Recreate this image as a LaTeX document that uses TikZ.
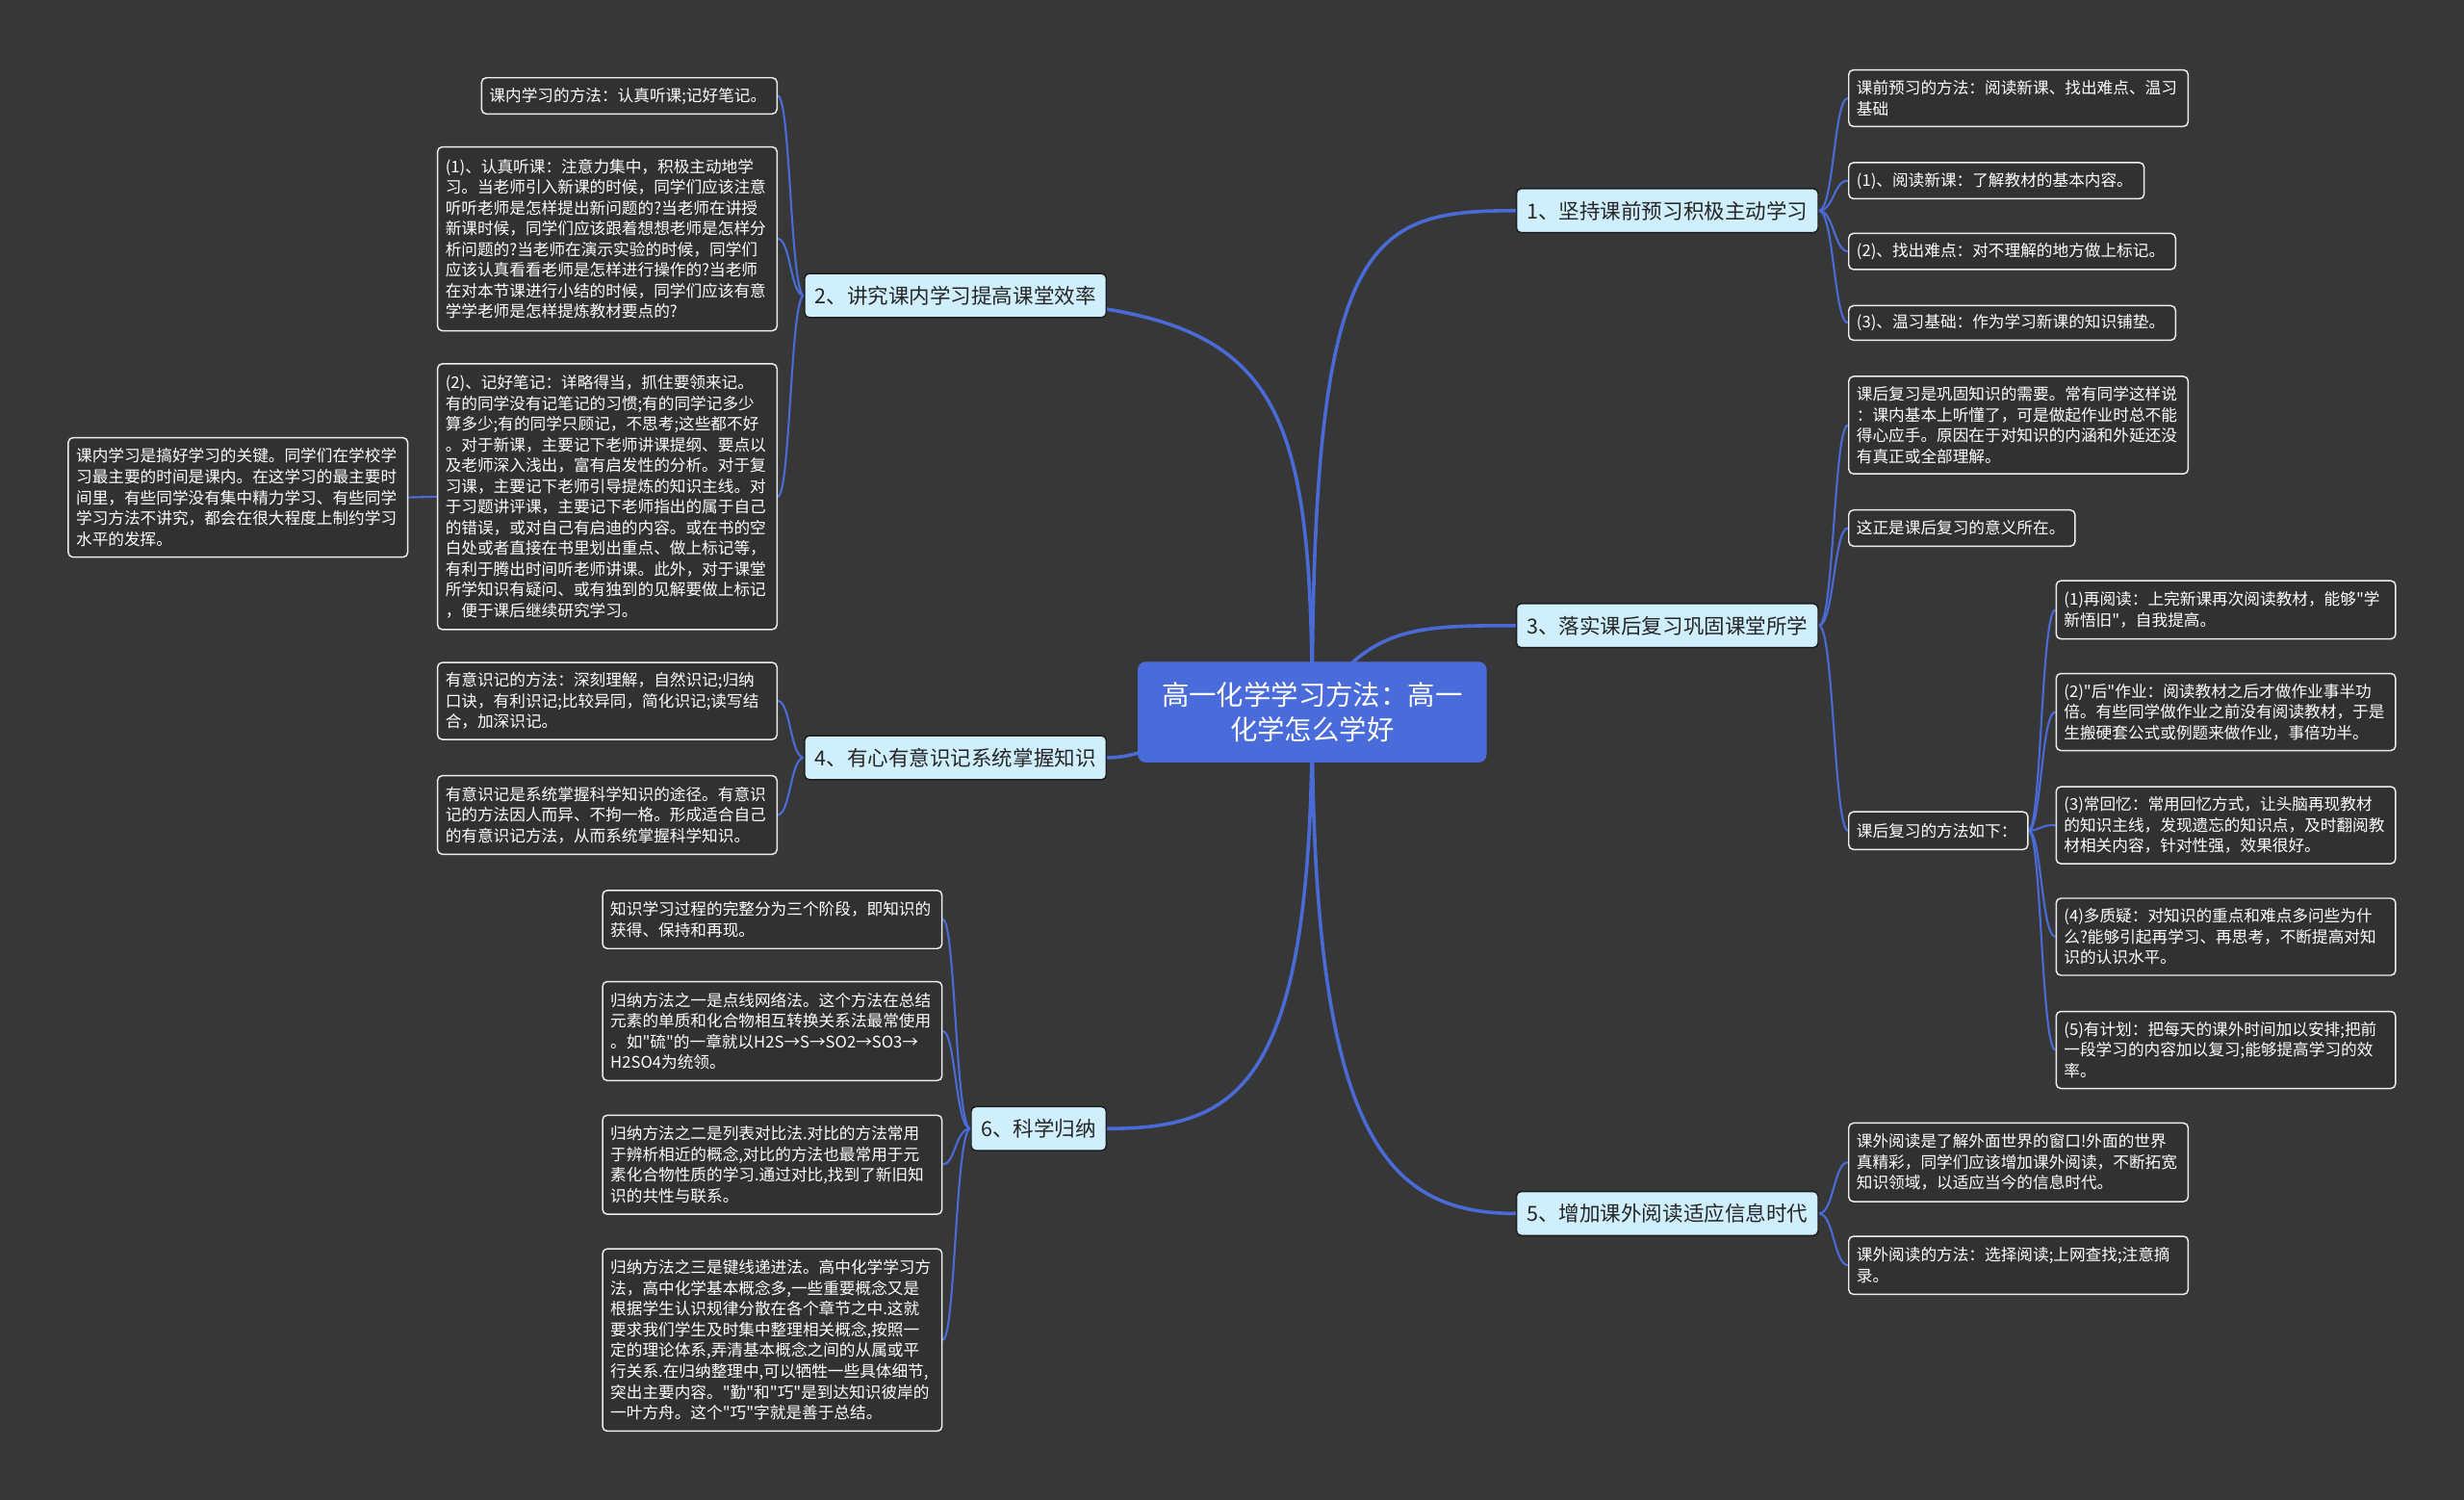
\documentclass[tikz,border=0pt]{standalone}
\usepackage{fontspec}
\setmainfont{Noto Sans CJK SC}[Ligatures=TeXOff]
\pgfdeclarelayer{bg}
\pgfsetlayers{bg,main}
\definecolor{bgc}{HTML}{373737}
\definecolor{brc}{HTML}{4A6BD6}
\definecolor{leafbg}{HTML}{313131}
\definecolor{leafline}{HTML}{EDEDED}
\definecolor{topicbg}{HTML}{CFEFFD}
\definecolor{topicline}{HTML}{1E1E1E}
\definecolor{topictext}{HTML}{262626}
\definecolor{rootbg}{HTML}{4A6CDA}
\tikzset{
 branch/.style={draw=brc, line width=2.2pt},
 sub/.style={draw=brc, line width=1.3pt},
 leaf/.style={draw=leafline, fill=leafbg, rounded corners=3pt, line width=0.9pt, text=white,
   font=\fontsize{10.2}{13.2}\selectfont, align=left, inner xsep=5pt, inner ysep=3pt, anchor=north west},
 topic/.style={draw=topicline, fill=topicbg, rounded corners=3pt, line width=0.9pt, text=topictext,
   font=\fontsize{13.2}{16}\selectfont, minimum width=192pt, minimum height=28pt, inner sep=2pt, anchor=center},
 rootnode/.style={fill=rootbg, rounded corners=5pt, text=white, font=\fontsize{17.4}{21.5}\selectfont,
   align=center, minimum width=222pt, minimum height=64pt, inner sep=2pt, anchor=center}
}
\begin{document}
\begin{tikzpicture}[x=1pt,y=-1pt]
\useasboundingbox (0,0) rectangle (1568,954);
% root and topics
\node[rootnode] (root) at (835,453) {高一化学学习方法：高一\\化学怎么学好};
\node[topic] (t1) at (1061,134) {1、坚持课前预习积极主动学习};
\node[topic] (t2) at (608,188) {2、讲究课内学习提高课堂效率};
\node[topic] (t3) at (1061,398) {3、落实课后复习巩固课堂所学};
\node[topic] (t4) at (608,482) {4、有心有意识记系统掌握知识};
\node[topic] (t5) at (1061,772) {5、增加课外阅读适应信息时代};
\node[topic, minimum width=86pt] (t6) at (661,718) {6、科学归纳};
% right side leaves
\node[leaf, text width=206pt, minimum height=36pt] (a1) at (1176,44) {课前预习的方法：阅读新课、找出难点、温习\\基础};
\node[leaf, text width=178pt, minimum height=23pt] (a2) at (1176,103) {(1)、阅读新课：了解教材的基本内容。};
\node[leaf, text width=198pt, minimum height=23pt] (a3) at (1176,148) {(2)、找出难点：对不理解的地方做上标记。};
\node[leaf, text width=198pt, minimum height=22pt] (a4) at (1176,194) {(3)、温习基础：作为学习新课的知识铺垫。};
\node[leaf, text width=206pt, minimum height=62pt] (c1) at (1176,239) {课后复习是巩固知识的需要。常有同学这样说\\：课内基本上听懂了，可是做起作业时总不能\\得心应手。原因在于对知识的内涵和外延还没\\有真正或全部理解。};
\node[leaf, text width=134pt, minimum height=23pt] (c2) at (1176,324) {这正是课后复习的意义所在。};
\node[leaf, text width=104pt, minimum height=24pt] (c3) at (1176,516) {课后复习的方法如下：};
\node[leaf, text width=206pt, minimum height=37pt] (d1) at (1308,369) {(1)再阅读：上完新课再次阅读教材，能够"学\\新悟旧"，自我提高。};
\node[leaf, text width=206pt, minimum height=49pt] (d2) at (1308,428) {(2)"后"作业：阅读教材之后才做作业事半功\\倍。有些同学做作业之前没有阅读教材，于是\\生搬硬套公式或例题来做作业，事倍功半。};
\node[leaf, text width=206pt, minimum height=49pt] (d3) at (1308,500) {(3)常回忆：常用回忆方式，让头脑再现教材\\的知识主线，发现遗忘的知识点，及时翻阅教\\材相关内容，针对性强，效果很好。};
\node[leaf, text width=206pt, minimum height=49pt] (d4) at (1308,571) {(4)多质疑：对知识的重点和难点多问些为什\\么?能够引起再学习、再思考，不断提高对知\\识的认识水平。};
\node[leaf, text width=206pt, minimum height=49pt] (d5) at (1308,643) {(5)有计划：把每天的课外时间加以安排;把前\\一段学习的内容加以复习;能够提高学习的效\\率。};
\node[leaf, text width=206pt, minimum height=50pt] (e1) at (1176,714) {课外阅读是了解外面世界的窗口!外面的世界\\真精彩，同学们应该增加课外阅读，不断拓宽\\知识领域，以适应当今的信息时代。};
\node[leaf, text width=206pt, minimum height=37pt] (e2) at (1176,786) {课外阅读的方法：选择阅读;上网查找;注意摘\\录。};
% left side leaves
\node[leaf, text width=178pt, minimum height=23pt] (b1) at (306,49) {课内学习的方法：认真听课;记好笔记。};
\node[leaf, text width=206pt, minimum height=117pt] (b2) at (278,93) {(1)、认真听课：注意力集中，积极主动地学\\习。当老师引入新课的时候，同学们应该注意\\听听老师是怎样提出新问题的?当老师在讲授\\新课时候，同学们应该跟着想想老师是怎样分\\析问题的?当老师在演示实验的时候，同学们\\应该认真看看老师是怎样进行操作的?当老师\\在对本节课进行小结的时候，同学们应该有意\\学学老师是怎样提炼教材要点的?};
\node[leaf, text width=206pt, minimum height=169pt] (b3) at (278,231) {(2)、记好笔记：详略得当，抓住要领来记。\\有的同学没有记笔记的习惯;有的同学记多少\\算多少;有的同学只顾记，不思考;这些都不好\\。对于新课，主要记下老师讲课提纲、要点以\\及老师深入浅出，富有启发性的分析。对于复\\习课，主要记下老师引导提炼的知识主线。对\\于习题讲评课，主要记下老师指出的属于自己\\的错误，或对自己有启迪的内容。或在书的空\\白处或者直接在书里划出重点、做上标记等，\\有利于腾出时间听老师讲课。此外，对于课堂\\所学知识有疑问、或有独到的见解要做上标记\\，便于课后继续研究学习。};
\node[leaf, text width=206pt, minimum height=76pt] (b4) at (43,278) {课内学习是搞好学习的关键。同学们在学校学\\习最主要的时间是课内。在这学习的最主要时\\间里，有些同学没有集中精力学习、有些同学\\学习方法不讲究，都会在很大程度上制约学习\\水平的发挥。};
\node[leaf, text width=206pt, minimum height=49pt] (f1) at (278,421) {有意识记的方法：深刻理解，自然识记;归纳\\口诀，有利识记;比较异同，简化识记;读写结\\合，加深识记。};
\node[leaf, text width=206pt, minimum height=50pt] (f2) at (278,493) {有意识记是系统掌握科学知识的途径。有意识\\记的方法因人而异、不拘一格。形成适合自己\\的有意识记方法，从而系统掌握科学知识。};
\node[leaf, text width=206pt, minimum height=37pt] (g1) at (383,566) {知识学习过程的完整分为三个阶段，即知识的\\获得、保持和再现。};
\node[leaf, text width=206pt, minimum height=63pt] (g2) at (383,624) {归纳方法之一是点线网络法。这个方法在总结\\元素的单质和化合物相互转换关系法最常使用\\。如"硫"的一章就以H2S→S→SO2→SO3→\\H2SO4为统领。};
\node[leaf, text width=206pt, minimum height=63pt] (g3) at (383,709) {归纳方法之二是列表对比法.对比的方法常用\\于辨析相近的概念,对比的方法也最常用于元\\素化合物性质的学习.通过对比,找到了新旧知\\识的共性与联系。};
\node[leaf, text width=206pt, minimum height=116pt] (g4) at (383,794) {归纳方法之三是键线递进法。高中化学学习方\\法，高中化学基本概念多,一些重要概念又是\\根据学生认识规律分散在各个章节之中.这就\\要求我们学生及时集中整理相关概念,按照一\\定的理论体系,弄清基本概念之间的从属或平\\行关系.在归纳整理中,可以牺牲一些具体细节,\\突出主要内容。"勤"和"巧"是到达知识彼岸的\\一叶方舟。这个"巧"字就是善于总结。};
% connectors
\begin{pgfonlayer}{bg}
\fill[bgc] (0,0) rectangle (1568,954);
\draw[branch] (root.center) .. controls (835,150) and (870,134) .. (t1.west);
\draw[branch] (root.center) .. controls (835,200) and (800,188) .. (t2.west);
\draw[branch] (root.center) .. controls (870,398) and (900,398) .. (t3.west);
\draw[branch] (root.center) .. controls (760,453) and (740,482) .. (t4.east);
\draw[branch] (root.center) .. controls (835,720) and (880,772) .. (t5.west);
\draw[branch] (root.center) .. controls (835,690) and (790,718) .. (t6.east);
% topic 1
\draw[sub] (t1.east) .. controls (1167,134) and (1167,62) .. (a1.west);
\draw[sub] (t1.east) .. controls (1167,134) and (1167,114.5) .. (a2.west);
\draw[sub] (t1.east) .. controls (1167,134) and (1167,159.5) .. (a3.west);
\draw[sub] (t1.east) .. controls (1167,134) and (1167,205) .. (a4.west);
% topic 3
\draw[sub] (t3.east) .. controls (1167,398) and (1167,270) .. (c1.west);
\draw[sub] (t3.east) .. controls (1167,398) and (1167,335.5) .. (c2.west);
\draw[sub] (t3.east) .. controls (1167,398) and (1167,528) .. (c3.west);
\draw[sub] (c3.east) .. controls (1299,528) and (1299,387.5) .. (d1.west);
\draw[sub] (c3.east) .. controls (1299,528) and (1299,452.5) .. (d2.west);
\draw[sub] (c3.east) .. controls (1299,528) and (1299,524.5) .. (d3.west);
\draw[sub] (c3.east) .. controls (1299,528) and (1299,595.5) .. (d4.west);
\draw[sub] (c3.east) .. controls (1299,528) and (1299,667.5) .. (d5.west);
% topic 5
\draw[sub] (t5.east) .. controls (1167,772) and (1167,739) .. (e1.west);
\draw[sub] (t5.east) .. controls (1167,772) and (1167,804.5) .. (e2.west);
% topic 2
\draw[sub] (t2.west) .. controls (503,188) and (503,60.5) .. (b1.east);
\draw[sub] (t2.west) .. controls (503,188) and (503,151.5) .. (b2.east);
\draw[sub] (t2.west) .. controls (503,188) and (503,315.5) .. (b3.east);
\draw[sub] (b4.east) -- (b3.west);
% topic 4
\draw[sub] (t4.west) .. controls (503,482) and (503,445.5) .. (f1.east);
\draw[sub] (t4.west) .. controls (503,482) and (503,518) .. (f2.east);
% topic 6
\draw[sub] (t6.west) .. controls (608,718) and (608,584.5) .. (g1.east);
\draw[sub] (t6.west) .. controls (608,718) and (608,655.5) .. (g2.east);
\draw[sub] (t6.west) .. controls (608,718) and (608,740.5) .. (g3.east);
\draw[sub] (t6.west) .. controls (608,718) and (608,852) .. (g4.east);
\end{pgfonlayer}
\end{tikzpicture}
\end{document}
